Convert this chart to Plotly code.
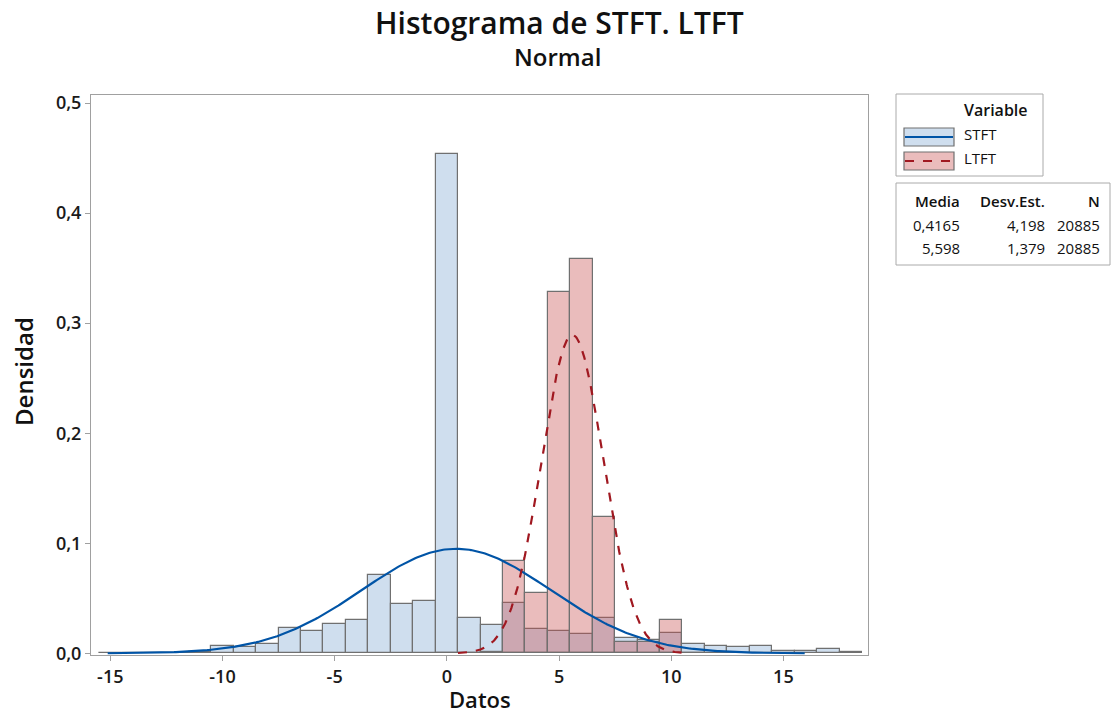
import numpy as np
import plotly.graph_objects as go

# Histogram densities (bin width 1, bins centred on integers)
stft_bins = list(range(-15, 19))
stft_density = [0.0003, 0.0003, 0.0004, 0.0006, 0.0015, 0.0065, 0.0055, 0.0083,
                0.0234, 0.0200, 0.0270, 0.0306, 0.0709, 0.0448, 0.0473, 0.4536,
                0.0323, 0.0259, 0.0455, 0.0221, 0.0206, 0.0173, 0.0318, 0.0139,
                0.0125, 0.0182, 0.0085, 0.0070, 0.0057, 0.0070, 0.0020, 0.0020,
                0.0036, 0.0010]

ltft_bins = list(range(0, 12))
ltft_density = [0.0, 0.0005, 0.0015, 0.0836, 0.0552, 0.3285, 0.3579, 0.1239,
                0.0103, 0.0103, 0.0303, 0.0005]

# Fitted normal parameters
series_names = ["STFT", "LTFT"]
means = [0.4165, 5.598]
stdevs = [4.198, 1.379]
counts = [20885, 20885]
mean_labels = ["0,4165", "5,598"]
sd_labels = ["4,198", "1,379"]

x_ticks = [-15, -10, -5, 0, 5, 10, 15]
x_tick_labels = ["-15", "-10", "-5", "0", "5", "10", "15"]
y_ticks = [0.0, 0.1, 0.2, 0.3, 0.4, 0.5]

FONT = "Open Sans"
W, H = 1111, 715
L, T, PW, PH = 91, 95, 777, 560

BLUE_FILL = "rgb(207,222,238)"
RED_FILL = "rgba(200,79,79,0.38)"
EDGE = "rgb(112,112,112)"
BLUE_LINE = "rgb(0,84,166)"
RED_LINE = "rgb(160,24,32)"


def px(x):
    return (x - L) / PW


def py(y):
    return (T + PH - y) / PH


def normal_pdf(x, mu, sd):
    return np.exp(-0.5 * ((x - mu) / sd) ** 2) / (sd * np.sqrt(2 * np.pi))


def label(text, x, y, size, weight=400, xanchor="center", angle=0):
    return dict(text=text, x=px(x), y=py(y), xref="paper", yref="paper",
                xanchor=xanchor, yanchor="middle", showarrow=False, textangle=angle,
                font=dict(family=FONT, size=size, color="#111", weight=weight))


fig = go.Figure()

fig.add_trace(go.Bar(x=stft_bins, y=stft_density, width=1,
                     marker=dict(color=BLUE_FILL, line=dict(color=EDGE, width=1.2)),
                     name="STFT", showlegend=False))
fig.add_trace(go.Bar(x=ltft_bins, y=ltft_density, width=1,
                     marker=dict(color=RED_FILL, line=dict(color=EDGE, width=1.2)),
                     name="LTFT", showlegend=False))

for mu, sd, color, dash, name in zip(means, stdevs, [BLUE_LINE, RED_LINE],
                                     ["solid", "dash"], series_names):
    xs = np.linspace(mu - 3.7 * sd, mu + 3.7 * sd, 400)
    fig.add_trace(go.Scatter(x=xs, y=normal_pdf(xs, mu, sd), mode="lines",
                             line=dict(color=color, width=2.2, dash=dash),
                             name=name, showlegend=False))

axis_common = dict(showgrid=False, zeroline=False, showline=True, mirror=True,
                   linecolor="rgb(160,160,160)", linewidth=1, ticks="outside",
                   ticklen=5, tickcolor="rgb(160,160,160)",
                   tickfont=dict(family=FONT, size=18, color="#1a1a1a", weight=600))

fig.update_xaxes(range=[-15.86, 18.77], tickvals=x_ticks, ticktext=x_tick_labels,
                 **axis_common)
fig.update_yaxes(range=[-0.0015, 0.5073], tickvals=y_ticks, tickformat=".1f",
                 **axis_common)

shapes = []
annotations = []

# Titles
annotations.append(label("Histograma de STFT. LTFT", 559, 22, 30, 600))
annotations.append(label("Normal", 557, 56, 24, 600))
annotations.append(label("Datos", 480, 699, 22, 600))
annotations.append(label("Densidad", 23, 372, 24, 600, angle=-90))

# Legend box
shapes.append(dict(type="rect", xref="paper", yref="paper", x0=px(896), x1=px(1043),
                   y0=py(94), y1=py(176), line=dict(color="rgb(170,170,170)", width=1),
                   fillcolor="white"))
annotations.append(label("Variable", 962, 110, 16, 600, xanchor="left"))
for name, fill, color, dash, yc in [("STFT", BLUE_FILL, BLUE_LINE, "solid", 137),
                                    ("LTFT", "rgb(234,188,188)", RED_LINE, "dash", 161)]:
    shapes.append(dict(type="rect", xref="paper", yref="paper", x0=px(904), x1=px(954),
                       y0=py(yc - 9), y1=py(yc + 9), fillcolor=fill,
                       line=dict(color=EDGE, width=1.2)))
    shapes.append(dict(type="line", xref="paper", yref="paper", x0=px(905), x1=px(953),
                       y0=py(yc), y1=py(yc), line=dict(color=color, width=2.2, dash=dash)))
    annotations.append(label(name, 962, yc - 3, 15, 400, xanchor="left"))

# Statistics box
shapes.append(dict(type="rect", xref="paper", yref="paper", x0=px(896), x1=px(1110),
                   y0=py(183), y1=py(265), line=dict(color="rgb(170,170,170)", width=1),
                   fillcolor="white"))
for text, xr in [("Media", 962), ("Desv.Est.", 1047), ("N", 1102)]:
    annotations.append(label(text, xr, 201, 15, 600, xanchor="right"))
for i, yc in enumerate([225, 248]):
    for text, xr in [(mean_labels[i], 962), (sd_labels[i], 1047), (str(counts[i]), 1102)]:
        annotations.append(label(text, xr, yc, 15, 400, xanchor="right"))

fig.update_layout(
    width=W, height=H, barmode="overlay", bargap=0,
    margin=dict(l=L, r=W - L - PW, t=T, b=H - T - PH),
    plot_bgcolor="white", paper_bgcolor="white",
    separators=",.", showlegend=False,
    shapes=shapes, annotations=annotations,
)

fig.write_html("out.html")
